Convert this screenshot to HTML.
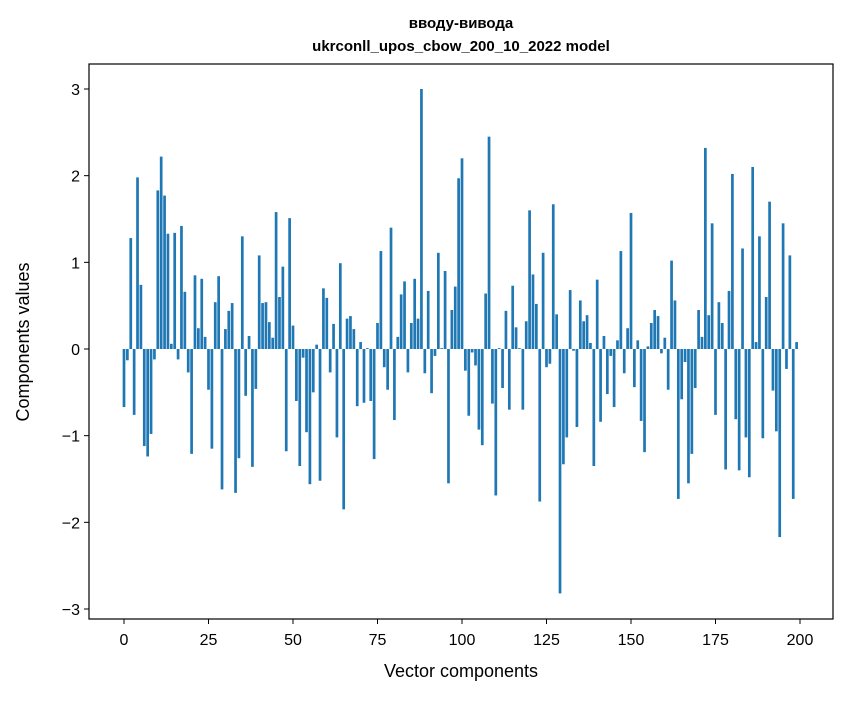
<!DOCTYPE html>
<html><head><meta charset="utf-8"><style>
body{margin:0;background:#fff;}
svg text{font-family:"Liberation Sans","DejaVu Sans",sans-serif;fill:#000;}
</style></head><body>
<svg id="chart" width="847" height="696">
<rect width="847" height="696" fill="#fff"/>
<text x="461" y="28" text-anchor="middle" font-size="15" font-weight="bold">вводу-вивода</text>
<text x="461" y="51" text-anchor="middle" font-size="15" font-weight="bold">ukrconll_upos_cbow_200_10_2022 model</text>
<g id="bars"></g>
<g id="xticks"></g>
<g id="yticks"></g>
<rect x="89" y="64" width="744" height="555" fill="none" stroke="#000" stroke-width="1.2"/>
<text x="461" y="677" text-anchor="middle" font-size="18">Vector components</text>
<text transform="translate(29,342) rotate(-90)" text-anchor="middle" font-size="18">Components values</text>
</svg>
<script>
const values = [-0.67,-0.13,1.28,-0.76,1.98,0.74,-1.12,-1.24,-0.98,-0.12,
1.83,2.22,1.77,1.33,0.06,1.34,-0.12,1.42,0.66,-0.27,
-1.21,0.85,0.24,0.81,0.14,-0.47,-1.15,0.54,0.84,-1.62,
0.23,0.44,0.53,-1.66,-1.26,1.30,-0.54,0.15,-1.36,-0.46,
1.08,0.53,0.54,0.31,0.13,1.58,0.60,0.95,-1.18,1.51,
0.27,-0.60,-1.35,-0.10,-0.96,-1.56,-0.50,0.05,-1.52,0.70,
0.59,-0.27,0.29,-1.02,0.99,-1.85,0.35,0.38,0.23,-0.66,
0.08,-0.62,0.01,-0.60,-1.27,0.30,1.13,-0.21,-0.47,1.40,
-0.82,0.14,0.63,0.78,-0.27,0.30,0.81,0.35,3.00,-0.28,
0.67,-0.51,-0.08,1.11,0.01,0.90,-1.55,0.45,0.72,1.97,
2.20,-0.25,-0.77,-0.04,-0.19,-0.93,-1.11,0.64,2.45,-0.63,
-1.69,0.01,-0.45,0.44,-0.70,0.73,0.25,0.01,-0.70,0.32,
1.60,0.86,0.52,-1.76,1.11,-0.21,-0.17,1.67,0.40,-2.82,
-1.33,-1.02,0.68,-0.02,-0.90,0.56,0.32,0.39,0.07,-1.35,
0.80,-0.84,0.15,-0.52,-0.08,-0.67,0.10,1.13,-0.28,0.24,
1.57,-0.44,0.10,-0.83,-1.19,0.03,0.30,0.45,0.38,-0.05,
0.13,-0.47,1.02,0.56,-1.73,-0.58,-0.15,-1.55,-1.21,-0.45,
0.45,0.14,2.32,0.39,1.45,-0.76,0.54,0.30,-1.39,0.67,
2.02,-0.81,-1.40,1.16,-1.02,-1.48,2.10,0.08,1.30,-1.03,
0.60,1.70,-0.48,-0.95,-2.17,1.45,-0.23,1.08,-1.73,0.08];
const xTickLabels = [0,25,50,75,100,125,150,175,200];
const yTickLabels = [-3,-2,-1,0,1,2,3];
const NS = "http://www.w3.org/2000/svg";
const xs = v => 124 + v * (676/200);
const ys = v => 349 - v * (260/3);
const bars = document.getElementById('bars');
values.forEach((v, i) => {
  const r = document.createElementNS(NS, 'rect');
  const w = 0.8 * 676/200;
  r.setAttribute('x', xs(i) - w/2);
  r.setAttribute('width', w);
  r.setAttribute('y', Math.min(ys(v), ys(0)));
  r.setAttribute('height', Math.max(Math.abs(ys(v) - ys(0)), 0.3));
  r.setAttribute('fill', '#1f77b4');
  
  
  bars.appendChild(r);
});
const xg = document.getElementById('xticks');
xTickLabels.forEach(t => {
  const l = document.createElementNS(NS, 'line');
  l.setAttribute('x1', xs(t)); l.setAttribute('x2', xs(t));
  l.setAttribute('y1', 619); l.setAttribute('y2', 624);
  l.setAttribute('stroke', '#000');
  
  
  xg.appendChild(l);
  const tx = document.createElementNS(NS, 'text');
  tx.setAttribute('x', xs(t)); tx.setAttribute('y', 645);
  tx.setAttribute('text-anchor', 'middle'); tx.setAttribute('font-size', '16');
  tx.textContent = t;
  
  
  xg.appendChild(tx);
});
const yg = document.getElementById('yticks');
yTickLabels.forEach(t => {
  const l = document.createElementNS(NS, 'line');
  l.setAttribute('x1', 84); l.setAttribute('x2', 89);
  l.setAttribute('y1', ys(t)); l.setAttribute('y2', ys(t));
  l.setAttribute('stroke', '#000');
  
  
  yg.appendChild(l);
  const tx = document.createElementNS(NS, 'text');
  tx.setAttribute('x', 80); tx.setAttribute('y', ys(t) + 6);
  tx.setAttribute('text-anchor', 'end'); tx.setAttribute('font-size', '16');
  tx.textContent = t < 0 ? '\u2212' + Math.abs(t) : String(t);
  
  
  yg.appendChild(tx);
});
</script>
</body></html>
